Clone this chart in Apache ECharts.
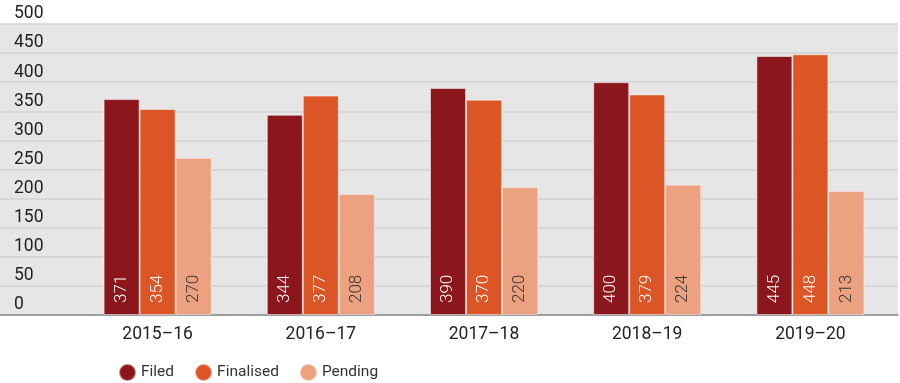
<!DOCTYPE html>
<html><head><meta charset="utf-8">
<script src="https://cdn.jsdelivr.net/npm/echarts@6/dist/echarts.min.js"></script>
<style>html,body{margin:0;padding:0;background:#fff}#c{width:900px;height:383px}</style>
</head><body><div id="c"></div>
<script>
const categories = ['2015–16','2016–17','2017–18','2018–19','2019–20'];
const filed = [371, 344, 390, 400, 445];
const finalised = [354, 377, 370, 379, 448];
const pending = [270, 208, 220, 224, 213];
const yTicks = [0, 50, 100, 150, 200, 250, 300, 350, 400, 450, 500];

const chart = echarts.init(document.getElementById('c'));
const font = 'Roboto, "Noto Sans", sans-serif';
function barLabel(color){
  return {show:true, position:'insideBottom', distance:12, rotate:90, align:'left', verticalAlign:'middle',
    color:color, fontSize:17, fontWeight:300, fontFamily:font};
}
chart.setOption({
  animation:false,
  textStyle:{fontFamily:font},
  grid:[
    {left:0, right:2, top:24, bottom:68, show:true, backgroundColor:'#e6e6e6', borderWidth:0},
    {left:76, right:8, top:24, bottom:68}
  ],
  xAxis:[
    {gridIndex:0, type:'value', min:0, max:1, show:true, axisLabel:{show:false}, axisTick:{show:false}, splitLine:{show:false},
      axisLine:{show:true, onZero:false, lineStyle:{color:'#8a8a8a', width:1.5}}},
    {gridIndex:1, type:'category', data:categories, axisLine:{show:false}, axisTick:{show:false},
      axisLabel:{color:'#222', fontSize:17.5, margin:11, fontFamily:font}}
  ],
  yAxis:[
    {gridIndex:0, type:'value', min:yTicks[0], max:yTicks[yTicks.length-1], interval:50,
      axisLine:{show:false}, axisTick:{show:false},
      axisLabel:{inside:true, margin:14, color:'#222', fontSize:17.5, fontFamily:font, verticalAlign:'bottom', padding:[0,0,1,0]},
      splitLine:{show:true, lineStyle:{color:'#d2d2d2', width:1.5}}},
    {gridIndex:1, type:'value', min:0, max:500, interval:50, show:false}
  ],
  legend:{
    left:113, top:358, icon:'circle', itemWidth:17, itemHeight:17, itemGap:20,
    textStyle:{color:'#333', fontSize:15.5, fontFamily:font},
    data:['Filed','Finalised','Pending']
  },
  series:[
    {name:'Filed', type:'bar', xAxisIndex:1, yAxisIndex:1, data:filed, barWidth:36, barGap:'0%',
      itemStyle:{color:'#8b171c', borderColor:'rgba(255,255,255,0.5)', borderWidth:1}, label:barLabel('#fff')},
    {name:'Finalised', type:'bar', xAxisIndex:1, yAxisIndex:1, data:finalised, barWidth:36, barGap:'0%',
      itemStyle:{color:'#dc5527', borderColor:'rgba(255,255,255,0.5)', borderWidth:1}, label:barLabel('#fff')},
    {name:'Pending', type:'bar', xAxisIndex:1, yAxisIndex:1, data:pending, barWidth:36, barGap:'0%',
      itemStyle:{color:'#eca281', borderColor:'rgba(255,255,255,0.4)', borderWidth:1}, label:barLabel('#333')}
  ]
});
</script></body></html>
